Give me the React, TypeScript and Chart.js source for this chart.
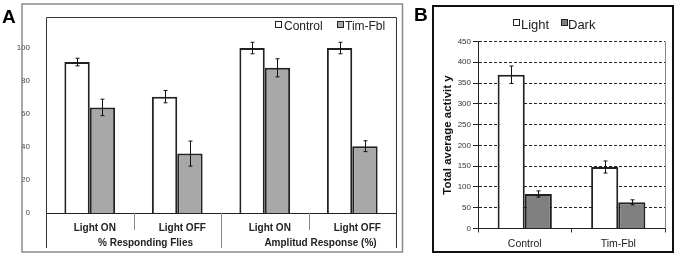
import React, { useEffect, useRef } from "react";
import { Chart, registerables } from "chart.js";
Chart.register(...registerables);

const FONT = "'Liberation Sans', Arial, sans-serif";

// ---------- Panel A data ----------
const categoriesA = ["Light ON", "Light OFF", "Light ON", "Light OFF"];
const groupsA = ["% Responding Flies", "Amplitud Response (%)"];
const controlA = [91.5, 70.5, 100, 100];
const controlErrA = [2.3, 3.7, 3.5, 3.5];
const timA = [64, 36, 88, 40.5];
const timErrA = [5, 7.6, 5.5, 3.3];
const seriesNamesA = ["Control", "Tim-Fbl"];

// ---------- Panel B data ----------
const categoriesB = ["Control", "Tim-Fbl"];
const lightB = [370, 148];
const lightErrB = [21, 14.5];
const darkB = [83, 63];
const darkErrB = [7.5, 6];
const seriesNamesB = ["Light", "Dark"];
const yTitleB = "Total average activit y";

const makeErrorPlugin = (errs: number[][]) => ({
  id: "errorBars",
  afterDatasetsDraw(chart: any) {
    const ctx = chart.ctx;
    const ys = chart.scales.y;
    ctx.save();
    ctx.strokeStyle = "#111";
    ctx.lineWidth = 1;
    errs.forEach((e, di) => {
      const meta = chart.getDatasetMeta(di);
      const data = chart.data.datasets[di].data as number[];
      meta.data.forEach((bar: any, i: number) => {
        const x = Math.round(bar.x) + 0.5;
        const t = ys.getPixelForValue(data[i] + e[i]);
        const b = ys.getPixelForValue(data[i] - e[i]);
        ctx.beginPath();
        ctx.moveTo(x, t);
        ctx.lineTo(x, b);
        ctx.moveTo(x - 2, t);
        ctx.lineTo(x + 2, t);
        ctx.moveTo(x - 2, b);
        ctx.lineTo(x + 2, b);
        ctx.stroke();
      });
    });
    ctx.restore();
  },
});

const legendBox = (ctx: any, x: number, y: number, fill: string) => {
  ctx.fillStyle = fill;
  ctx.fillRect(x, y, 6, 6);
  ctx.strokeStyle = "#222";
  ctx.lineWidth = 1;
  ctx.strokeRect(x + 0.5, y + 0.5, 6, 6);
};

const frameA = {
  id: "frameA",
  afterDraw(chart: any) {
    const ctx = chart.ctx;
    const xs = chart.scales.x;
    const ca = chart.chartArea;
    ctx.save();
    // outer panel border
    ctx.strokeStyle = "#8a8a8a";
    ctx.lineWidth = 1.5;
    ctx.strokeRect(22, 4, 380.5, 248);
    // inner box
    ctx.strokeStyle = "#333";
    ctx.lineWidth = 1;
    ctx.beginPath();
    ctx.moveTo(ca.left + 0.5, 248);
    ctx.lineTo(ca.left + 0.5, ca.top + 0.5);
    ctx.lineTo(ca.right + 0.5, ca.top + 0.5);
    ctx.lineTo(ca.right + 0.5, 248);
    ctx.stroke();
    // category separators
    ctx.strokeStyle = "#8a8a8a";
    for (let k = 1; k < categoriesA.length; k++) {
      const px = Math.round(xs.getPixelForValue(k - 0.5)) + 0.5;
      ctx.beginPath();
      ctx.moveTo(px, ca.bottom);
      ctx.lineTo(px, k % 2 === 0 ? 248 : 230);
      ctx.stroke();
    }
    // group labels
    ctx.fillStyle = "#222";
    ctx.font = `bold 10px ${FONT}`;
    ctx.textAlign = "center";
    ctx.textBaseline = "middle";
    groupsA.forEach((g, gi) => {
      const l = xs.getPixelForValue(gi * 2 - 0.5);
      const r = xs.getPixelForValue(gi * 2 + 1.5);
      ctx.fillText(g, (l + r) / 2 + 12, 243);
    });
    // panel letter
    ctx.font = `bold 19px ${FONT}`;
    ctx.textAlign = "left";
    ctx.textBaseline = "alphabetic";
    ctx.fillStyle = "#000";
    ctx.fillText("A", 2, 23);
    // legend
    ctx.font = `12px ${FONT}`;
    legendBox(ctx, 275, 21, "#fff");
    ctx.fillStyle = "#222";
    ctx.fillText(seriesNamesA[0], 284, 30);
    legendBox(ctx, 337, 21, "#a8a8a8");
    ctx.fillStyle = "#222";
    ctx.fillText(seriesNamesA[1], 345, 30);
    ctx.restore();
  },
};

const frameB = {
  id: "frameB",
  afterDraw(chart: any) {
    const ctx = chart.ctx;
    const ca = chart.chartArea;
    ctx.save();
    ctx.strokeStyle = "#111";
    ctx.lineWidth = 2;
    ctx.strokeRect(23, 6, 240, 246);
    ctx.strokeStyle = "#888";
    ctx.lineWidth = 1;
    ctx.beginPath();
    ctx.moveTo(Math.round(ca.right) + 0.5, ca.top);
    ctx.lineTo(Math.round(ca.right) + 0.5, ca.bottom);
    ctx.stroke();
    ctx.font = `bold 19px ${FONT}`;
    ctx.fillStyle = "#000";
    ctx.textAlign = "left";
    ctx.textBaseline = "alphabetic";
    ctx.fillText("B", 4, 21);
    ctx.font = `13px ${FONT}`;
    legendBox(ctx, 103, 19, "#fff");
    ctx.fillStyle = "#222";
    ctx.fillText(seriesNamesB[0], 111, 29);
    legendBox(ctx, 151, 19, "#808080");
    ctx.fillStyle = "#222";
    ctx.fillText(seriesNamesB[1], 158, 29);
    ctx.restore();
  },
};

export default function App() {
  const refA = useRef<HTMLCanvasElement>(null);
  const refB = useRef<HTMLCanvasElement>(null);

  useEffect(() => {
    const barBase = { borderColor: "#222", borderWidth: 2, barPercentage: 1, categoryPercentage: 0.58 };
    const chartA = new Chart(refA.current as HTMLCanvasElement, {
      type: "bar",
      data: {
        labels: categoriesA,
        datasets: [
          { label: seriesNamesA[0], data: controlA, backgroundColor: "#ffffff", ...barBase },
          { label: seriesNamesA[1], data: timA, backgroundColor: "#a8a8a8", ...barBase },
        ],
      },
      options: {
        responsive: false,
        animation: false,
        layout: { padding: { left: 0, top: 17, right: 14, bottom: 0 } },
        plugins: { legend: { display: false }, tooltip: { enabled: false } },
        scales: {
          x: {
            grid: { display: false },
            border: { display: true, color: "#222", width: 1 },
            ticks: {
              font: { family: FONT, size: 10, weight: "bold" },
              color: "#222",
              padding: 1,
              labelOffset: 5,
              maxRotation: 0,
              autoSkip: false,
            },
            afterFit: (s: any) => {
              s.height = 41;
            },
          },
          y: {
            min: 0,
            max: 118.8,
            grid: { display: false },
            border: { display: false },
            ticks: { stepSize: 20, font: { family: FONT, size: 8 }, color: "#444", padding: 8 },
            afterBuildTicks: (s: any) => {
              s.ticks = s.ticks.filter((t: any) => t.value <= 100);
            },
            afterFit: (s: any) => {
              s.width = 46;
            },
          },
        },
      } as any,
      plugins: [makeErrorPlugin([controlErrA, timErrA]), frameA],
    });

    const chartB = new Chart(refB.current as HTMLCanvasElement, {
      type: "bar",
      data: {
        labels: categoriesB,
        datasets: [
          { label: seriesNamesB[0], data: lightB, backgroundColor: "#ffffff", ...barBase },
          { label: seriesNamesB[1], data: darkB, backgroundColor: "#808080", ...barBase },
        ],
      },
      options: {
        responsive: false,
        animation: false,
        layout: { padding: { left: 27, top: 41.5, right: 15, bottom: 0 } },
        plugins: { legend: { display: false }, tooltip: { enabled: false } },
        scales: {
          x: {
            grid: { display: true, drawOnChartArea: false, offset: true, tickLength: 4, color: "#333" },
            border: { display: true, color: "#222", width: 1 },
            ticks: { font: { family: FONT, size: 10.5 }, color: "#222", padding: 5, maxRotation: 0 },
            afterFit: (s: any) => {
              s.height = 25.5;
            },
          },
          y: {
            min: 0,
            max: 450,
            grid: {
              color: (c: any) => (c.tick && c.tick.value === 0 ? "rgba(0,0,0,0)" : "#222"),
              tickColor: "#222",
              tickLength: 5,
              lineWidth: 1,
            },
            border: { display: true, color: "#222", width: 1, dash: [3, 2] },
            ticks: { stepSize: 50, font: { family: FONT, size: 8 }, color: "#333", padding: 2 },
            title: {
              display: true,
              text: yTitleB,
              font: { family: FONT, size: 11.5, weight: "bold" },
              color: "#111",
            },
            afterFit: (s: any) => {
              s.width = 41;
            },
          },
        },
      } as any,
      plugins: [makeErrorPlugin([lightErrB, darkErrB]), frameB],
    });

    return () => {
      chartA.destroy();
      chartB.destroy();
    };
  }, []);

  return (
    <div style={{ position: "absolute", left: 0, top: 0, width: 680, height: 254, background: "#fff" }}>
      <canvas ref={refA} width={410} height={254} style={{ position: "absolute", left: 0, top: 0 }} />
      <canvas ref={refB} width={270} height={254} style={{ position: "absolute", left: 410, top: 0 }} />
    </div>
  );
}
